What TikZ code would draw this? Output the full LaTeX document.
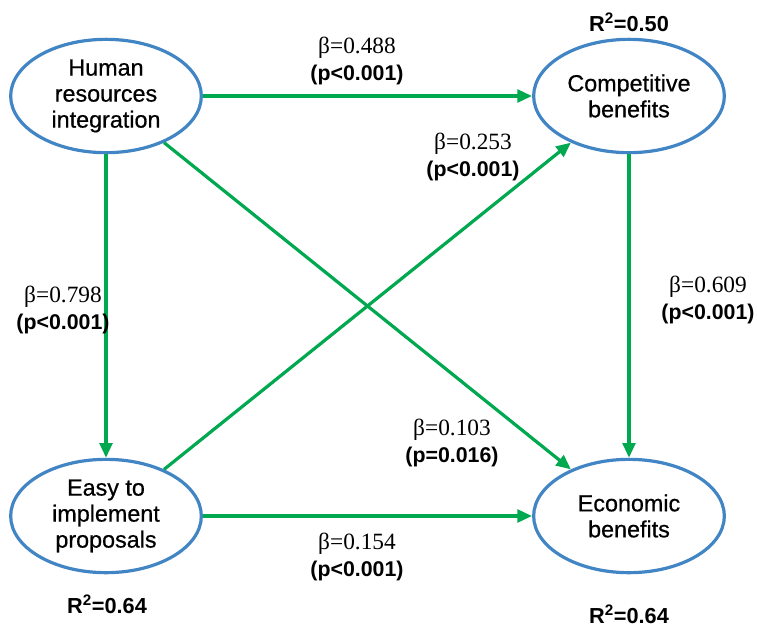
\documentclass[tikz,border=0pt]{standalone}
\usepackage{fontspec}
\setmainfont{Liberation Sans}
\newfontfamily\coeffont{Liberation Serif}
\newfontfamily\constructfont[FakeBold=0.6]{Liberation Sans}
\usetikzlibrary{shapes.geometric,arrows.meta}

\definecolor{ringblue}{RGB}{66,133,196}
\definecolor{pathgreen}{RGB}{0,168,80}

\begin{document}
\begin{tikzpicture}[x=0.75pt,y=-0.75pt,
  construct/.style={ellipse,draw=ringblue,line width=2.4pt,fill=white,
    minimum width=143pt,minimum height=85pt,inner sep=0pt,align=center,
    font=\constructfont\fontsize{17.5}{19.5}\selectfont},
  link/.style={draw=pathgreen,line width=2.4pt,
    -{Triangle[length=11pt,width=9.5pt]}},
  coef/.style={align=center,font=\bfseries\fontsize{16}{20}\selectfont},
  rsq/.style={font=\bfseries\fontsize{16.3}{19}\selectfont}
]
\useasboundingbox (0,0) rectangle (757,626);

% constructs
\node[construct] (hri)  at (106,96)  {Human\\resources\\integration};
\node[construct] (comp) at (629,96)  {Competitive\\benefits};
\node[construct] (easy) at (106,516) {Easy to\\implement\\proposals};
\node[construct] (eco)  at (629,516) {Economic\\benefits};

% structural paths
\draw[link] (hri) -- (comp);
\draw[link] (hri) -- (eco);
\draw[link] (easy) -- (comp);
\draw[link] (hri.south) -- (easy.north);
\draw[link] (comp.south) -- (eco.north);
\draw[link] (easy) -- (eco);

% path coefficients
\node[coef] (c1) at (357,61)  {{\mdseries\coeffont\fontsize{17.5}{20}\selectfont β=0.488}\\(p<0.001)};
\node[coef] (c2) at (473,157) {{\mdseries\coeffont\fontsize{17.5}{20}\selectfont β=0.253}\\(p<0.001)};
\node[coef] (c3) at (63,310)  {{\mdseries\coeffont\fontsize{17.5}{20}\selectfont β=0.798}\\(p<0.001)};
\node[coef] (c4) at (708,300) {{\mdseries\coeffont\fontsize{17.5}{20}\selectfont β=0.609}\\(p<0.001)};
\node[coef] (c5) at (452,443) {{\mdseries\coeffont\fontsize{17.5}{20}\selectfont β=0.103}\\(p=0.016)};
\node[coef] (c6) at (357,557) {{\mdseries\coeffont\fontsize{17.5}{20}\selectfont β=0.154}\\(p<0.001)};

% explained variance
\node[rsq] (r1) at (629,22)  {R\textsuperscript{2}=0.50};
\node[rsq] (r2) at (107,604) {R\textsuperscript{2}=0.64};
\node[rsq] (r3) at (629,614) {R\textsuperscript{2}=0.64};
\end{tikzpicture}
\end{document}
